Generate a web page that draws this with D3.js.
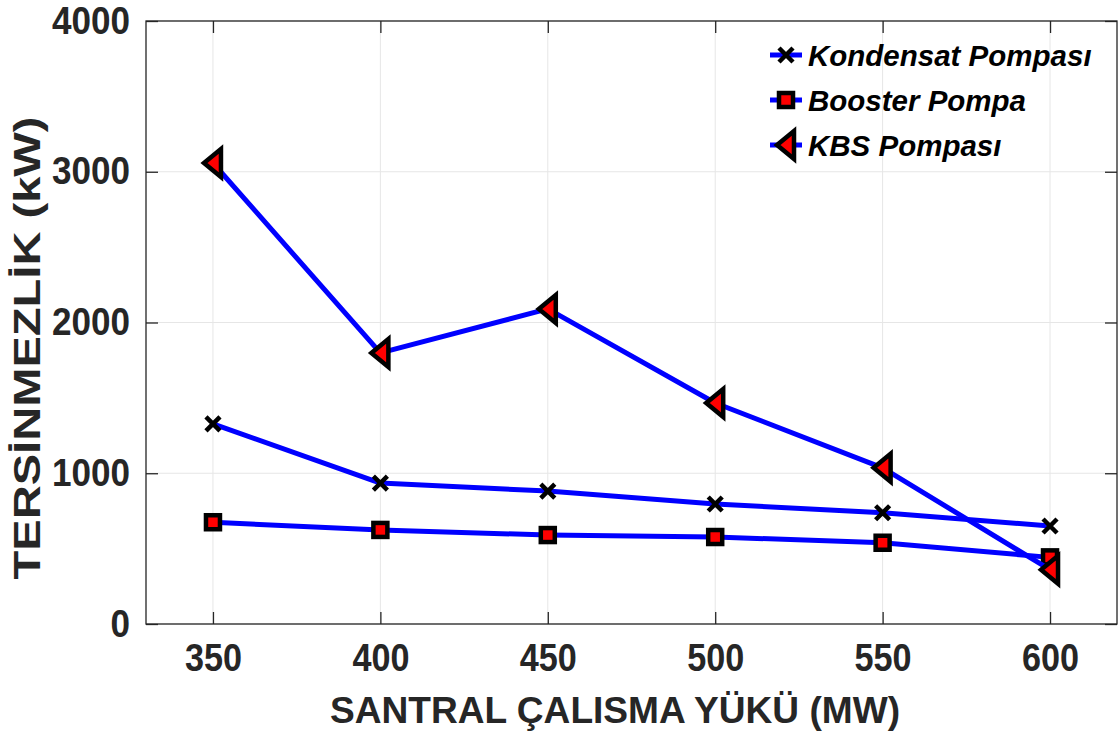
<!DOCTYPE html>
<html>
<head>
<meta charset="utf-8">
<script src="https://cdn.jsdelivr.net/npm/d3@7"></script>
<style>
  body { margin: 0; background: #fff; }
  svg { font-family: "Liberation Sans", Arial, sans-serif; }
</style>
</head>
<body>
<svg id="chart" width="1120" height="740"></svg>
<script>
// chart data
const loads = [350, 400, 450, 500, 550, 600];
const kondensat = [1327, 935, 882, 796, 738, 650];
const booster = [675, 624, 590, 577, 539, 442];
const kbs = [3058, 1798, 2090, 1466, 1036, 360];
const seriesNames = ["Kondensat Pompası", "Booster Pompa", "KBS Pompası"];
const yTicks = [0, 1000, 2000, 3000, 4000];

const svg = d3.select("#chart");
const margin = {top: 21, right: 3, bottom: 116, left: 146};
const width = 1120 - margin.left - margin.right,
  height = 740 - margin.top - margin.bottom;
const ink = "#262626";

const g = svg.append("g").attr("transform", `translate(${margin.left},${margin.top})`);

const x = d3.scaleLinear().domain([330, 620]).range([0, width]);
const y = d3.scaleLinear().domain([0, 4000]).range([height, 0]);

// grid
g.append("g").selectAll("line").data(loads).enter().append("line")
  .attr("x1", d => x(d)).attr("x2", d => x(d)).attr("y1", 0).attr("y2", height)
  .attr("stroke", "#e6e6e6").attr("stroke-width", 1);
g.append("g").selectAll("line").data(yTicks).enter().append("line")
  .attr("x1", 0).attr("x2", width).attr("y1", d => y(d)).attr("y2", d => y(d))
  .attr("stroke", "#e6e6e6").attr("stroke-width", 1);

// axes with inward ticks on every side
const tickLen = 12;
const styleAxis = sel => {
  sel.select(".domain").remove();
  sel.selectAll(".tick line").attr("stroke", ink).attr("stroke-width", 1.3);
};
g.append("g").attr("transform", `translate(0,${height})`)
  .call(d3.axisBottom(x).tickValues(loads).tickSize(-tickLen).tickPadding(20).tickFormat(d3.format("d")))
  .call(styleAxis)
  .selectAll("text")
  .attr("fill", ink).style("font-size", "38px").style("font-weight", "bold")
  .attr("dy", "0.71em")
  .attr("textLength", d => String(d).length * 19).attr("lengthAdjust", "spacingAndGlyphs");
g.append("g")
  .call(d3.axisTop(x).tickValues(loads).tickSize(-tickLen).tickFormat(""))
  .call(styleAxis);
g.append("g")
  .call(d3.axisLeft(y).tickValues(yTicks).tickSize(-tickLen).tickPadding(16).tickFormat(d3.format("d")))
  .call(styleAxis)
  .selectAll("text")
  .attr("fill", ink).style("font-size", "38px").style("font-weight", "bold")
  .attr("textLength", d => String(d).length * 19.5).attr("lengthAdjust", "spacingAndGlyphs");
g.append("g").attr("transform", `translate(${width},0)`)
  .call(d3.axisRight(y).tickValues(yTicks).tickSize(-tickLen).tickFormat(""))
  .call(styleAxis);

// box
g.append("rect").attr("width", width).attr("height", height)
  .attr("fill", "none").attr("stroke", ink).attr("stroke-width", 1.3);

// axis titles
svg.append("text")
  .attr("x", 615).attr("y", 723)
  .attr("text-anchor", "middle").attr("fill", ink)
  .style("font-size", "36px").style("font-weight", "bold")
  .attr("textLength", 570).attr("lengthAdjust", "spacingAndGlyphs")
  .text("SANTRAL ÇALISMA YÜKÜ (MW)");
svg.append("text")
  .attr("transform", "translate(40,348) rotate(-90)")
  .attr("text-anchor", "middle").attr("fill", ink)
  .style("font-size", "36px").style("font-weight", "bold")
  .attr("textLength", 463).attr("lengthAdjust", "spacingAndGlyphs")
  .text("TERSİNMEZLİK (kW)");

// markers
const markers = {
  cross: (sel) => sel.append("path").attr("d", "M-7,-7L7,7M-7,7L7,-7")
    .attr("stroke", "#000").attr("stroke-width", 4.5).attr("fill", "none"),
  square: (sel) => sel.append("rect").attr("x", -7).attr("y", -7).attr("width", 14).attr("height", 14)
    .attr("fill", "#ff0000").attr("stroke", "#000").attr("stroke-width", 4.5),
  triangle: (sel) => sel.append("path").attr("d", "M-9,0L8,-14L8,14Z")
    .attr("fill", "#ff0000").attr("stroke", "#000").attr("stroke-width", 4.5).attr("stroke-linejoin", "miter")
};

const series = [
  {name: seriesNames[0], values: kondensat, marker: "cross"},
  {name: seriesNames[1], values: booster, marker: "square"},
  {name: seriesNames[2], values: kbs, marker: "triangle"}
];

const line = d3.line().x((d, i) => x(loads[i])).y(d => y(d));

series.forEach(s => {
  g.append("path").datum(s.values)
    .attr("d", line)
    .attr("fill", "none").attr("stroke", "#0000ff").attr("stroke-width", 5)
    .attr("stroke-linejoin", "round");
  s.values.forEach((v, i) => {
    const m = g.append("g").attr("transform", `translate(${x(loads[i])},${y(v)})`);
    markers[s.marker](m);
  });
});

// legend
const legend = svg.append("g");
const rowY = [55, 100, 145];
series.forEach((s, i) => {
  const row = legend.append("g").attr("transform", `translate(770,${rowY[i]})`);
  row.append("line").attr("x1", 0).attr("x2", 32).attr("y1", 0).attr("y2", 0)
    .attr("stroke", "#0000ff").attr("stroke-width", 5);
  const m = row.append("g").attr("transform", "translate(16,0)");
  markers[s.marker](m);
  row.append("text").attr("x", 38).attr("y", 11)
    .attr("fill", "#000").style("font-size", "29.5px")
    .style("font-weight", "bold").style("font-style", "italic")
    .text(s.name);
});
</script>
</body>
</html>
